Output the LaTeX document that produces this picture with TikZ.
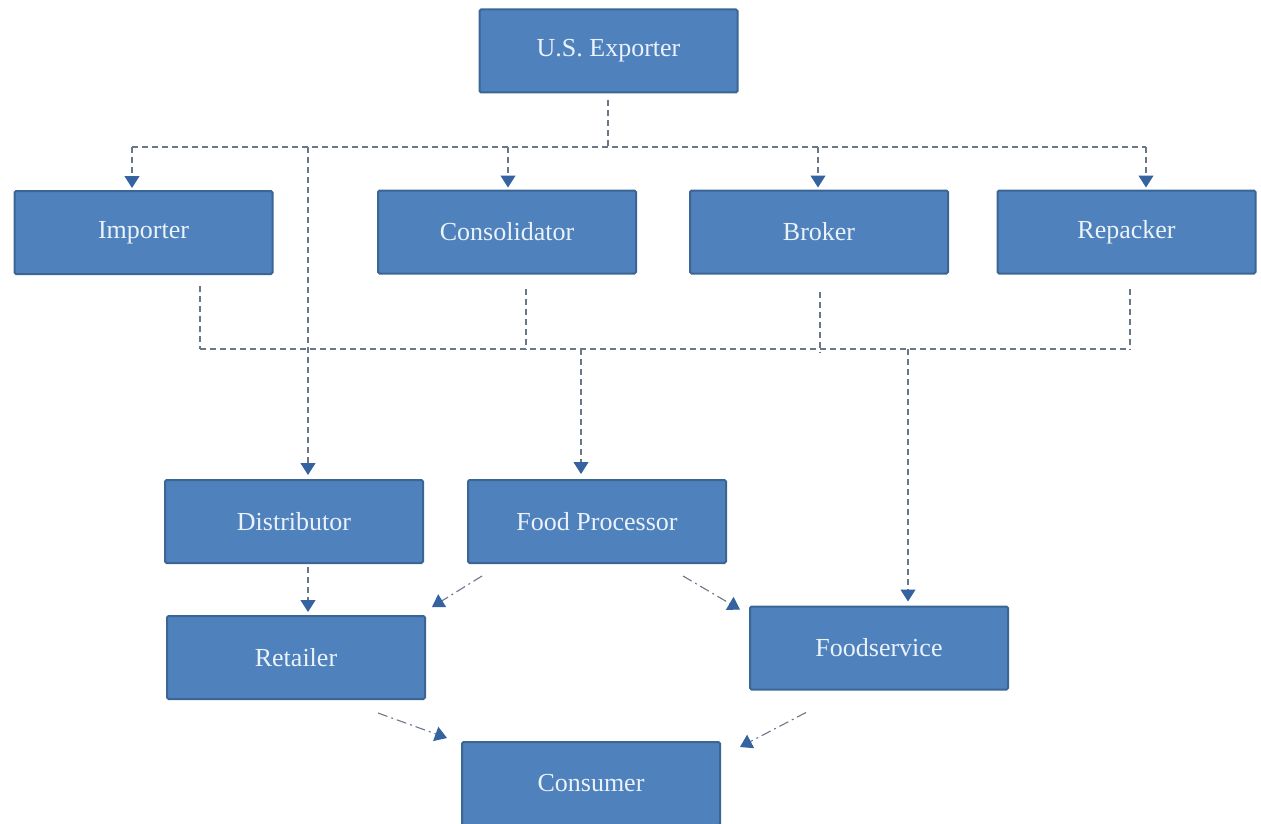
\documentclass[tikz,border=0pt]{standalone}
\usepackage{fontspec}
\setmainfont{Liberation Serif}
\usetikzlibrary{arrows.meta}
\definecolor{boxfill}{HTML}{4F81BD}
\definecolor{boxborder}{HTML}{3A6594}
\definecolor{boxtext}{HTML}{EAF2FA}
\definecolor{linec}{HTML}{6A7788}
\definecolor{arrowc}{HTML}{3463A0}
\begin{document}
\begin{tikzpicture}[x=1pt,y=-1pt,
  box/.style={draw=boxborder, line width=2pt, fill=boxfill, rounded corners=1.5pt,
    minimum width=258pt, minimum height=83pt, text=boxtext,
    font=\fontsize{26}{30}\selectfont, inner sep=0pt},
  dl/.style={draw=linec, line width=1.1pt, dash pattern=on 6pt off 4pt},
  ddl/.style={draw=linec, line width=1.1pt, dash pattern=on 10pt off 4pt on 2pt off 4pt},
  tip/.style={-{Triangle[width=15pt,length=12pt,color=arrowc]}}]
\useasboundingbox (0,0) rectangle (1261,824);

% boxes
\node[box] (exp)  at (608.5,51)  {U.S. Exporter};
\node[box] (imp)  at (143.5,232.5) {Importer};
\node[box] (con)  at (507,232)   {Consolidator};
\node[box] (bro)  at (819,232)   {Broker};
\node[box] (rep)  at (1126.5,232) {Repacker};
\node[box] (dis)  at (294,521.5) {Distributor};
\node[box] (fp)   at (597,521.5) {Food Processor};
\node[box] (ret)  at (296,657.5) {Retailer};
\node[box] (fs)   at (879,648)   {Foodservice};
\node[box] (cons) at (591,783.5) {Consumer};

% upper bus
\coordinate (j1) at (608,147);
\coordinate (bl) at (132,147);
\coordinate (br) at (1146,147);
\coordinate (bd) at (308,147);
\coordinate (bc) at (508,147);
\coordinate (bb) at (818,147);
\draw[dl] ([shift={(0,7)}]exp.south -| j1) -- (j1);
\draw[dl] (bl) -- (br);
\draw[dl,tip] (bl) -- ([shift={(0,-2)}]bl |- imp.north);
\draw[dl,tip] (bc) -- ([shift={(0,-2)}]bc |- con.north);
\draw[dl,tip] (bb) -- ([shift={(0,-2)}]bb |- bro.north);
\draw[dl,tip] (br) -- ([shift={(0,-2)}]br |- rep.north);
\draw[dl,tip] (bd) -- ([shift={(0,-4)}]bd |- dis.north);

% lower bus
\coordinate (li) at (200,349);
\coordinate (lc) at (526,349);
\coordinate (lb) at (820,352);
\coordinate (lr) at (1130,349);
\coordinate (lf) at (581,349);
\coordinate (ls) at (908,349);
\draw[dl] ([shift={(0,11)}]imp.south -| li) -- (li);
\draw[dl] ([shift={(0,14)}]con.south -| lc) -- (lc);
\draw[dl] ([shift={(0,17)}]bro.south -| lb) -- (lb);
\draw[dl] ([shift={(0,14)}]rep.south -| lr) -- (lr);
\draw[dl] (li) -- (lr);
\draw[dl,tip] (lf) -- ([shift={(0,-5)}]lf |- fp.north);
\draw[dl,tip] (ls) -- ([shift={(0,-4)}]ls |- fs.north);

% distributor to retailer
\coordinate (dr) at (308,0);
\draw[dl,tip] ([shift={(0,3)}]dis.south -| dr) -- ([shift={(0,-3)}]ret.north -| dr);

% diagonal dash-dot arrows
\draw[ddl,tip] ([shift={(-115,12)}]fp.south) -- ([shift={(136,-8)}]ret.north);
\draw[ddl,tip] ([shift={(86,12)}]fp.south) -- ([shift={(-139,4)}]fs.north);
\draw[ddl,tip] ([shift={(82,13)}]ret.south) -- ([shift={(-144,-3)}]cons.north);
\draw[ddl,tip] ([shift={(-73,22)}]fs.south) -- ([shift={(149,6)}]cons.north);
\end{tikzpicture}
\end{document}
